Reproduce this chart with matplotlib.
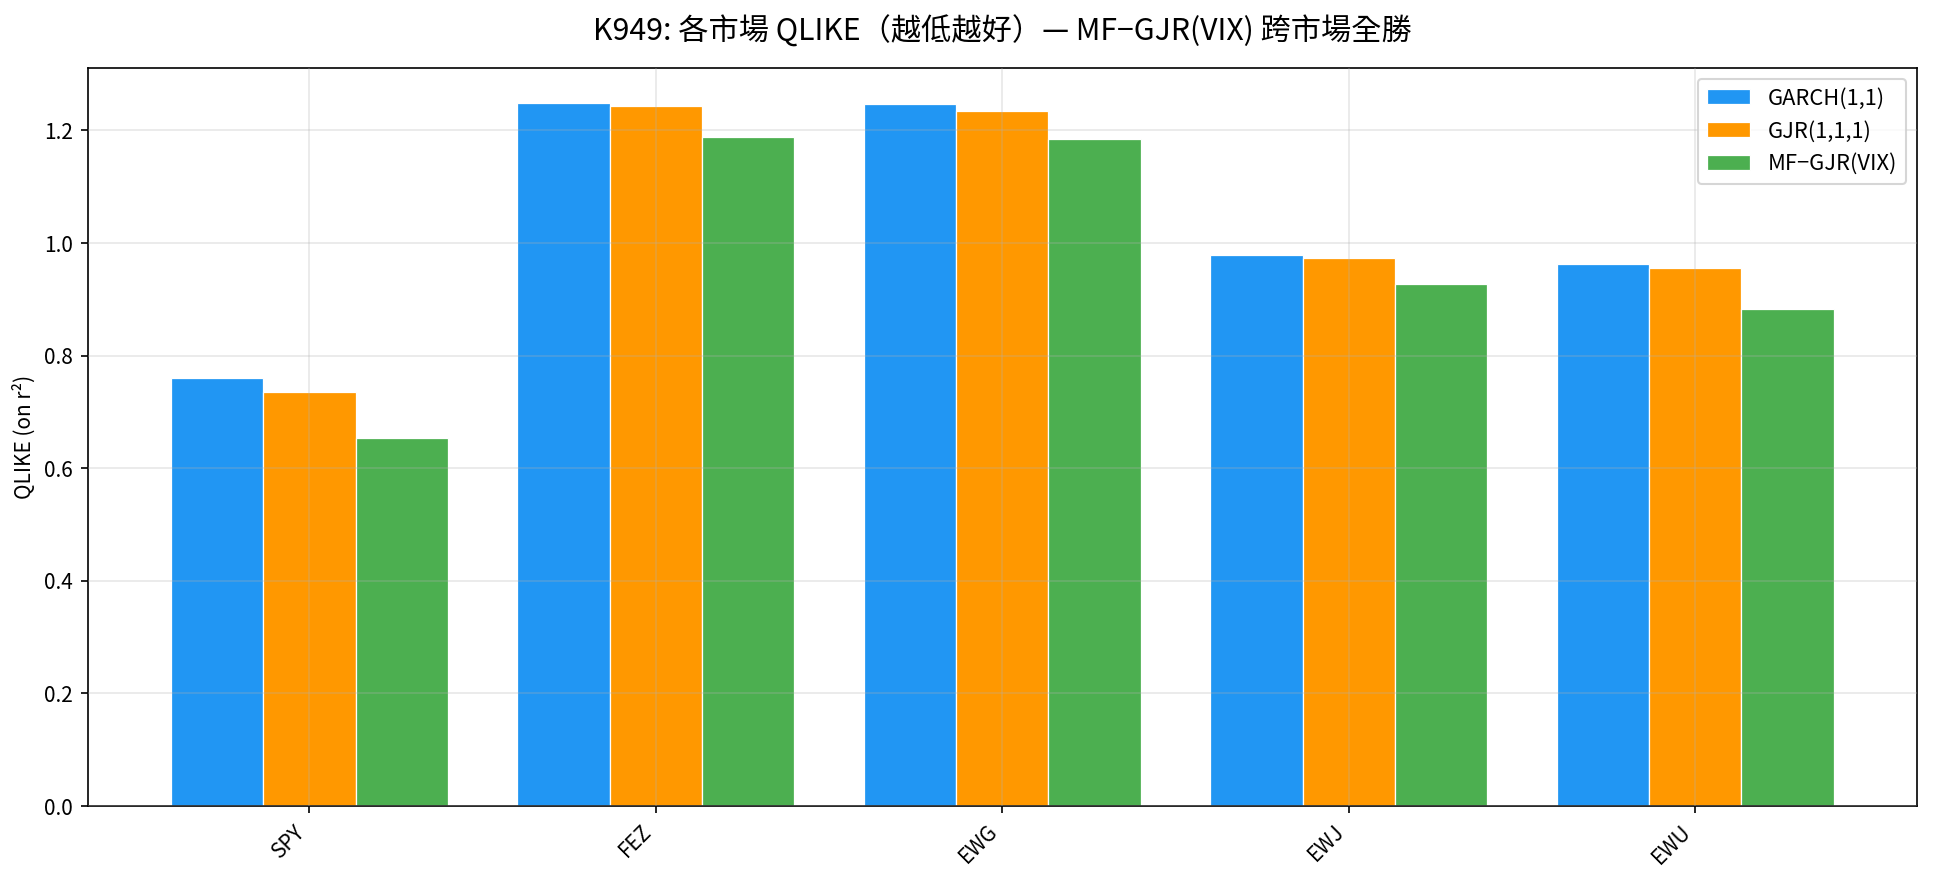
import numpy as np
import matplotlib
matplotlib.use('agg')
import matplotlib.pyplot as plt

plt.rcParams['font.family'] = ['Noto Sans CJK TC', 'DejaVu Sans']

markets = ["SPY", "FEZ", "EWG", "EWJ", "EWU"]
models = ["GARCH(1,1)", "GJR(1,1,1)", "MF\u2212GJR(VIX)"]
garch = [0.760, 1.249, 1.247, 0.979, 0.963]
gjr = [0.735, 1.244, 1.235, 0.974, 0.956]
mf_gjr = [0.654, 1.189, 1.185, 0.928, 0.883]
colors = ['#2196F3', '#FF9800', '#4CAF50']

fig = plt.figure(figsize=(1933 / 150, 884 / 150), dpi=150)
ax = fig.add_axes([0.0453, 0.0882, 0.9464, 0.8352])

x = np.arange(len(markets))
w = 0.8 / 3
for i, (vals, lab) in enumerate(zip([garch, gjr, mf_gjr], models)):
    ax.bar(x + (i - 1) * w, vals, w, color=colors[i], label=lab,
           edgecolor='white', linewidth=0.6)

ax.set_xticks(x)
ax.set_xticklabels(markets, rotation=45, ha='right')
ax.set_ylabel("QLIKE (on r\u00b2)", fontsize=10)
ax.tick_params(labelsize=10)
ax.grid(True, alpha=0.3)
ax.set_axisbelow(False)
ax.legend(loc='upper right', fontsize=10.5)
ax.set_title("K949: 各市場 QLIKE（越低越好）— MF\u2212GJR(VIX) 跨市場全勝",
             fontsize=14.5, pad=13)

fig.savefig("out.png", dpi=150)
